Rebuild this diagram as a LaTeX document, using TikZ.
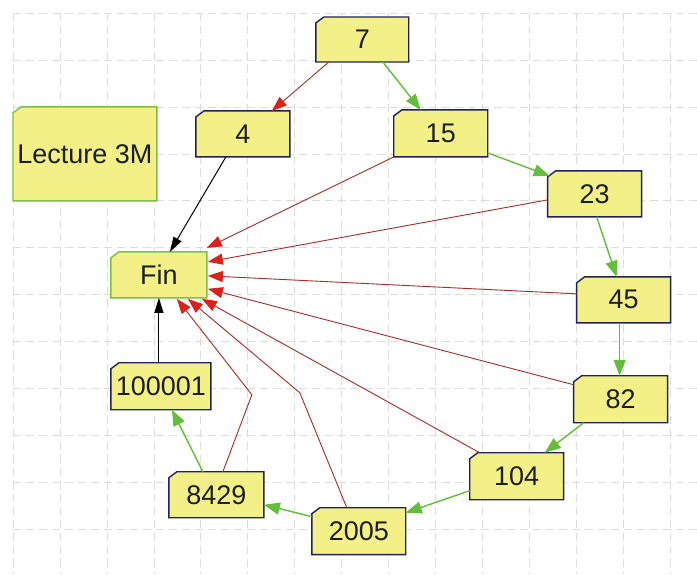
\documentclass[tikz,border=0pt]{standalone}
\usepackage{fontspec}
\setmainfont{Liberation Sans}
\usetikzlibrary{arrows.meta,calc}
\definecolor{boxfill}{RGB}{243,240,135}
\definecolor{boxline}{RGB}{30,35,90}
\definecolor{greenline}{RGB}{125,192,72}
\definecolor{arrgreen}{RGB}{100,190,60}
\definecolor{redline}{RGB}{165,45,40}
\definecolor{arrred}{RGB}{215,35,25}
\definecolor{gridc}{RGB}{220,220,220}
\definecolor{txt}{RGB}{30,30,30}
\pgfdeclarelayer{bg}
\pgfsetlayers{bg,main}
\newcommand\chbox[7]{%
  \node[boxnode, minimum width=#4pt, minimum height=#5pt] (#1) at (#2,#3) {#6};
  \begin{pgfonlayer}{bg}
  \filldraw[fill=boxfill, draw=#7, line width=1.4pt, line join=miter]
    ($(#1.north west)+(8,0)$) -- (#1.north east) -- (#1.south east) -- (#1.south west) -- ($(#1.north west)+(0,6)$) -- cycle;
  \end{pgfonlayer}
}
\begin{document}
\begin{tikzpicture}[x=1pt,y=-1pt,
  boxnode/.style={inner sep=0pt, outer sep=0pt, text=txt, font=\fontsize{27}{30}\selectfont},
  gridline/.style={draw=gridc, line width=0.8pt, dash pattern=on 8pt off 5pt},
  redarrow/.style={draw=redline, line width=0.9pt, -{Triangle[length=15pt,width=11pt,color=arrred]}},
  greenarrow/.style={draw=arrgreen, line width=1.4pt, -{Triangle[length=16pt,width=12pt,color=arrgreen]}},
  blackarrow/.style={draw=black, line width=1pt, -{Triangle[length=15pt,width=9pt,color=black]}}]
\begin{pgfonlayer}{bg}
\fill[white] (0,0) rectangle (697,574);
\foreach \x in {13,60,107,154,201,248,295,342,389,436,483,530,577,624,671}
  \draw[gridline] (\x,13) -- (\x,574);
\foreach \y in {13,60,107,154,201,248,295,342,389,436,483,530}
  \draw[gridline] (13,\y) -- (697,\y);
\end{pgfonlayer}
\useasboundingbox (0,0) rectangle (697,574);

\chbox{lec}{85}{154}{144}{94}{Lecture 3M}{greenline}
\chbox{fin}{159}{275}{96}{46}{Fin}{greenline}
\chbox{n7}{362.5}{39.5}{93}{45}{7}{boxline}
\chbox{n4}{243}{134}{94}{46}{4}{boxline}
\chbox{n15}{441}{133.5}{94}{47}{15}{boxline}
\chbox{n23}{595}{194}{94}{46}{23}{boxline}
\chbox{n45}{624}{300}{94}{46}{45}{boxline}
\chbox{n82}{621}{399.5}{94}{47}{82}{boxline}
\chbox{n104}{517}{476.5}{94}{47}{104}{boxline}
\chbox{n2005}{359}{531.5}{94}{47}{2005}{boxline}
\chbox{n8429}{216.5}{495}{95}{46}{8429}{boxline}
\chbox{n100001}{161}{386.5}{100}{47}{100001}{boxline}

\coordinate (b2005) at (300,393);
\coordinate (b8429) at (252,395);

\draw[redarrow] ($(n7.south west)+(13,0)$) -- ($(n4.north west)+(76,0)$);
\draw[greenarrow] ($(n7.south west)+(67,0)$) -- ($(n15.north west)+(27,0)$);
\draw[greenarrow] ($(n15.south east)+(0,-4)$) -- ($(n23.north west)+(2,5)$);
\draw[greenarrow] ($(n23.south west)+(49,0)$) -- ($(n45.north west)+(40,0)$);
\draw[greenarrow] ($(n45.south west)+(43,0)$) -- ($(n82.north west)+(46,0)$);
\draw[greenarrow] ($(n82.south west)+(10,0)$) -- ($(n104.north west)+(75,0)$);
\draw[greenarrow] ($(n104.south west)+(0,-9)$) -- ($(n2005.north east)+(0,5)$);
\draw[greenarrow] ($(n2005.north west)+(0,9)$) -- ($(n8429.north east)+(0,33)$);
\draw[greenarrow] ($(n8429.north west)+(34,0)$) -- ($(n100001.south west)+(61,0)$);
\draw[blackarrow] ($(n100001.north west)+(48,0)$) -- ($(fin.south west)+(48,0)$);
\draw[blackarrow] ($(n4.south west)+(30,0)$) -- ($(fin.north west)+(59,0)$);
\draw[redarrow] (n15.south west) -- ($(fin.north east)+(0,-4)$);
\draw[redarrow] ($(n23.south west)+(0,-17)$) -- ($(fin.north east)+(1,10)$);
\draw[redarrow] ($(n45.west)+(0,-6)$) -- ($(fin.north east)+(1,24)$);
\draw[redarrow] ($(n82.north west)+(0,9)$) -- ($(fin.north east)+(1,37)$);
\draw[redarrow] ($(n104.north west)+(10,0)$) -- ($(fin.south east)+(-5,1)$);
\draw[redarrow] ($(n2005.north west)+(35,0)$) -- (b2005) -- ($(fin.south west)+(77,1)$);
\draw[redarrow] ($(n8429.north west)+(54,0)$) -- (b8429) -- ($(fin.south west)+(66,1)$);
\end{tikzpicture}
\end{document}
